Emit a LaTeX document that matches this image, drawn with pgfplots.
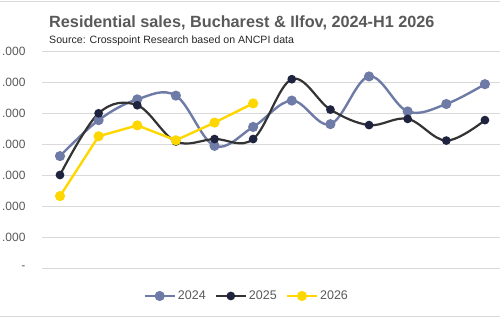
\documentclass[border=0pt]{standalone}
\usepackage{pgfplots}
\pgfplotsset{compat=1.18}
\usepackage{fontspec}
\setmainfont{Liberation Sans}
\definecolor{c24}{HTML}{6E7BA6}
\definecolor{c25line}{HTML}{333333}
\definecolor{c25mark}{HTML}{1E2340}
\definecolor{c26}{HTML}{FFD700}
\definecolor{txtgray}{HTML}{595959}
\definecolor{gridgray}{HTML}{D9D9D9}

\begin{document}
\begin{tikzpicture}[x=1pt,y=1pt]
% chart frame lines
\draw[gridgray, line width=0.8pt] (0,319) -- (500,319);
\draw[gridgray, line width=0.8pt] (0,3.5) -- (500,3.5);
\node[anchor=base west, inner sep=0, text=txtgray, font=\bfseries\fontsize{16.25}{18}\selectfont] at (49,292) {Residential sales, Bucharest \& Ilfov, 2024-H1 2026};
\node[anchor=base west, inner sep=0, text=black!85, font=\fontsize{10.6}{12}\selectfont] at (49,276) {Source: Crosspoint Research based on ANCPI data};
\begin{axis}[
  at={(42pt,52pt)}, anchor=south west,
  scale only axis, width=458pt, height=217pt,
  xmin=0.534, xmax=12.39, ymin=0, ymax=7000,
  axis line style={draw=none},
  xtick=\empty,
  ytick={0,1000,2000,3000,4000,5000,6000,7000},
  yticklabels={{-\hspace{10pt}},.000,.000,.000,.000,.000,.000,.000},
  yticklabel style={text=txtgray, font=\fontsize{12}{14}\selectfont, anchor=east, xshift=-13pt},
  major tick length=0pt,
  ymajorgrids, grid style={gridgray, line width=0.8pt},
  clip=false,
  legend columns=3,
  legend style={at={(0.447,-0.129)}, anchor=center, draw=none, fill=none,
    font=\fontsize{12.5}{14}\selectfont, text=txtgray,
    /tikz/every even column/.append style={column sep=7pt}},
  legend image code/.code={
    \draw[#1, mark=none] (0pt,0pt) -- (30pt,0pt);
    \draw[#1, only marks] plot coordinates {(15pt,0pt)};
  },
]
\addplot[c24, line width=2.4pt, smooth, tension=0.6, mark=*, mark size=3.8pt, mark options={fill=c24, draw=c24}] coordinates {
 (1,3610) (2,4770) (3,5440) (4,5560) (5,3940) (6,4550)
 (7,5400) (8,4640) (9,6180) (10,5050) (11,5290) (12,5930)};
\addlegendentry{2024}
\addplot[c25line, line width=2.2pt, smooth, tension=0.6, mark=*, mark size=3.2pt, mark options={fill=c25mark, draw=c25mark}] coordinates {
 (1,3000) (2,4990) (3,5250) (4,4080) (5,4160) (6,4160)
 (7,6090) (8,5110) (9,4610) (10,4810) (11,4110) (12,4770)};
\addlegendentry{2025}
\addplot[c26, line width=2.4pt, mark=*, mark size=3.8pt, mark options={fill=c26, draw=c26}] coordinates {
 (1,2320) (2,4250) (3,4600) (4,4120) (5,4690) (6,5310)};
\addlegendentry{2026}
\end{axis}
\pgfresetboundingbox
\path[use as bounding box] (0,0) rectangle (500,320);
\end{tikzpicture}
\end{document}
